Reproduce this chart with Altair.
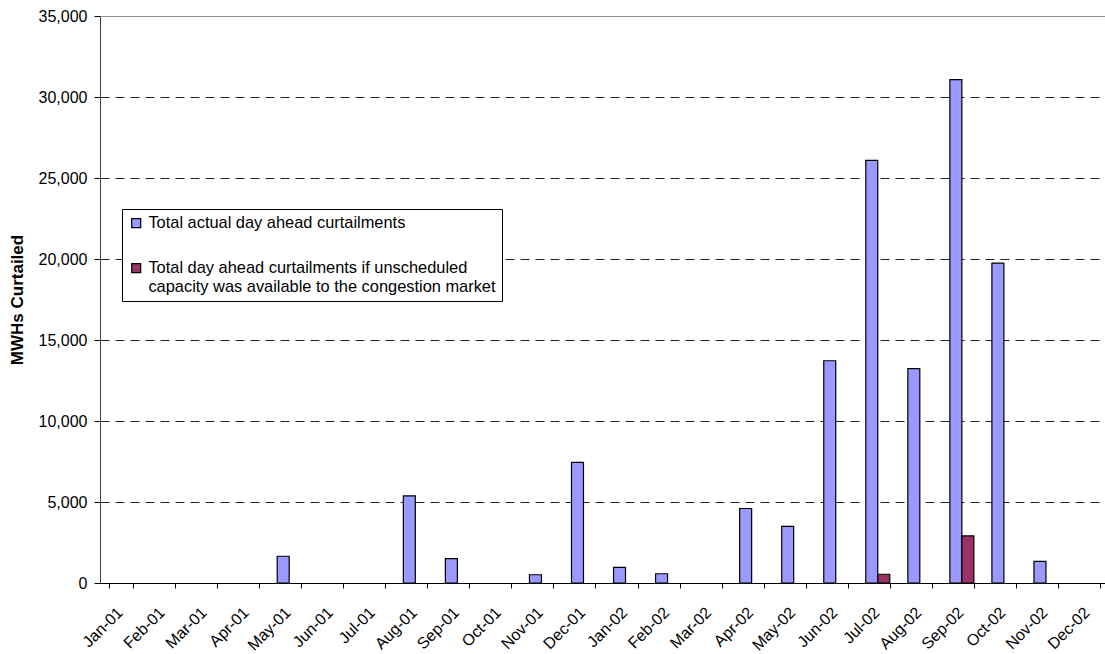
import altair as alt
import pandas as pd

months = ["Jan-01", "Feb-01", "Mar-01", "Apr-01", "May-01", "Jun-01", "Jul-01", "Aug-01",
          "Sep-01", "Oct-01", "Nov-01", "Dec-01", "Jan-02", "Feb-02", "Mar-02", "Apr-02",
          "May-02", "Jun-02", "Jul-02", "Aug-02", "Sep-02", "Oct-02", "Nov-02", "Dec-02"]
actual = [0, 0, 0, 0, 1650, 0, 0, 5380, 1500, 0, 510, 7440,
          960, 570, 0, 4600, 3500, 13720, 26090, 13230, 31070, 19750, 1340, 0]
unscheduled = [0, 0, 0, 0, 0, 0, 0, 0, 0, 0, 0, 0,
               0, 0, 0, 0, 0, 0, 540, 0, 2910, 0, 0, 0]

series_names = ["Total actual day ahead curtailments",
                "Total day ahead curtailments if unscheduled capacity was available to the congestion market"]
colors = ["#9999FF", "#993366"]

rows = []
for m, a, u in zip(months, actual, unscheduled):
    if a:
        rows.append({"month": m, "series": series_names[0], "value": a})
    if u:
        rows.append({"month": m, "series": series_names[1], "value": u})
df = pd.DataFrame(rows)

FONT = "Liberation Sans"
W, H = 1005, 567

label_expr = ("datum.label == '" + series_names[1] + "' ? "
              "['Total day ahead curtailments if unscheduled', "
              "'capacity was available to the congestion market'] : datum.label")

chart = alt.Chart(df).mark_bar(stroke="black", strokeWidth=1.2).encode(
    x=alt.X("month:N", sort=months,
            scale=alt.Scale(domain=months, range=[0, 1009], paddingInner=0.43, paddingOuter=0.215),
            axis=alt.Axis(title=None, labelAngle=315, labelAlign="right", labelBaseline="top",
                          tickBand="extent", tickSize=5, tickColor="black", domainColor="black",
                          labelFont=FONT, labelFontSize=16, labelColor="black",
                          labelPadding=16, labelOffset=-7,
                          grid=False)),
    xOffset=alt.XOffset("series:N", sort=series_names,
                        scale=alt.Scale(domain=series_names, paddingInner=0, paddingOuter=0)),
    y=alt.Y("value:Q", scale=alt.Scale(domain=[0, 35000], nice=False),
            axis=alt.Axis(title="MWHs Curtailed", values=list(range(0, 35001, 5000)), format=",d",
                          tickSize=6, tickColor="black", domainColor="#404040",
                          labelFont=FONT, labelFontSize=16, labelColor="black", labelPadding=7,
                          titleFont=FONT, titleFontSize=17, titleFontWeight="bold", titleColor="black",
                          titleX=-74, titleY=283.5, titleAngle=270,
                          grid=True,
                          gridColor={"condition": {"test": "datum.value === 35000", "value": "#909090"},
                                     "value": "#222222"},
                          gridDash={"condition": {"test": "datum.value === 35000", "value": []},
                                    "value": [9, 6]},
                          gridWidth=1)),
    color=alt.Color("series:N",
                    scale=alt.Scale(domain=series_names, range=colors),
                    legend=alt.Legend(title=None, orient="none", legendX=22, legendY=193,
                                      symbolType="square", symbolSize=81,
                                      symbolStrokeColor="black", symbolStrokeWidth=1.2,
                                      labelFont=FONT, labelFontSize=16.4, labelColor="black",
                                      labelLimit=600, labelOffset=4,
                                      labelExpr=label_expr,
                                      rowPadding=28, padding=6,
                                      strokeColor="black", fillColor="white")),
).properties(
    width=W, height=H,
    padding={"left": 100, "top": 16, "right": 0, "bottom": 71},
    autosize=alt.AutoSizeParams(type="none"),
).configure_view(stroke=None).configure(background="white")

chart.save("out.html", embed_options={"renderer": "svg", "actions": False})
